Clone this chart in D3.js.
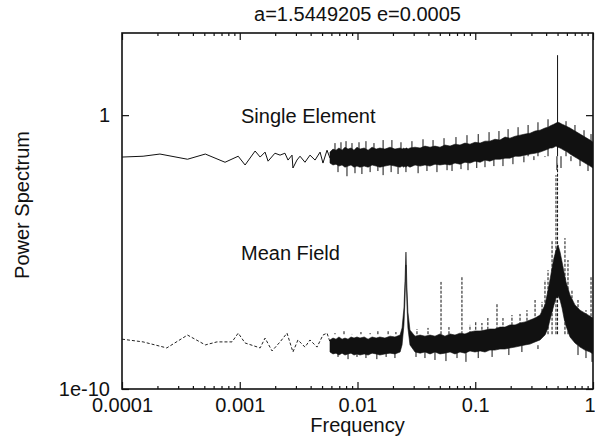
<!DOCTYPE html>
<html>
<head>
<meta charset="utf-8">
<script src="https://cdn.jsdelivr.net/npm/d3@7"></script>
<style>
  body { margin: 0; background: #fff; }
  svg text { font-family: "Liberation Sans", Arial, Helvetica, sans-serif; fill: #111; }
</style>
</head>
<body>
<svg id="chart" width="595" height="448"></svg>
<script>
// ---- data (power stored as log10) ----
var titleText = "a=1.5449205 e=0.0005";
var xTickValues = [1e-4, 1e-3, 1e-2, 1e-1, 1];
var xTickLabels = ["0.0001", "0.001", "0.01", "0.1", "1"];
var yTickValues = [1e-10, 1];
var yTickLabels = ["1e-10", "1"];

// low frequency part, Single Element (solid)
var singleLowFreq = [1e-4, 1.51e-4, 2.1e-4, 3.6e-4, 5.1e-4, 7.5e-4, 9.7e-4, 1.11e-3, 1.35e-3, 1.49e-3,
  1.64e-3, 1.74e-3, 1.99e-3, 2.2e-3, 2.42e-3, 2.57e-3, 2.78e-3, 2.83e-3, 3.06e-3, 3.25e-3,
  3.58e-3, 3.95e-3, 4.36e-3, 4.81e-3, 5.09e-3, 5.51e-3, 5.84e-3];
var singleLowLog = [-1.53, -1.50, -1.42, -1.61, -1.42, -1.72, -1.50, -1.82, -1.31, -1.53,
  -1.35, -1.68, -1.39, -1.46, -1.39, -1.64, -1.46, -1.93, -1.64, -1.50,
  -1.72, -1.46, -1.64, -1.35, -1.75, -1.28, -1.57];

// low frequency part, Mean Field (dashed)
var meanLowFreq = [1e-4, 1.51e-4, 2.4e-4, 3.6e-4, 5.1e-4, 6.4e-4, 8.6e-4, 9.7e-4, 1.11e-3, 1.49e-3,
  1.64e-3, 1.88e-3, 2.2e-3, 2.52e-3, 2.83e-3, 3.12e-3, 3.58e-3, 3.95e-3, 4.53e-3, 5.09e-3,
  5.51e-3, 5.84e-3];
var meanLowLog = [-8.18, -8.28, -8.50, -8.03, -8.39, -8.28, -8.28, -7.96, -8.32, -8.50,
  -8.14, -8.61, -8.28, -7.96, -8.65, -8.21, -8.47, -8.21, -8.47, -8.03,
  -7.96, -8.28];

// noisy part: common frequency grid with upper / lower envelopes of the dense core
var bandFreq = [0.00584, 0.00619, 0.00657, 0.00696, 0.00739, 0.00783, 0.00831, 0.00881, 0.00934, 0.0099,
  0.0105, 0.0114, 0.0123, 0.0133, 0.0144, 0.0155, 0.0171, 0.0189, 0.0208, 0.023,
  0.0239, 0.0248, 0.0253, 0.0258, 0.0263, 0.0268, 0.0279, 0.0308, 0.034, 0.0374,
  0.0413, 0.0455, 0.0502, 0.0553, 0.0611, 0.0673, 0.0742, 0.0818, 0.0902, 0.0995,
  0.110, 0.121, 0.133, 0.147, 0.162, 0.179, 0.197, 0.218, 0.240, 0.265,
  0.292, 0.322, 0.355, 0.391, 0.415, 0.431, 0.449, 0.466, 0.485, 0.505,
  0.525, 0.546, 0.567, 0.590, 0.638, 0.703, 0.776, 0.855, 0.944, 1.0];
var singleTopLog = [-1.35, -1.24, -1.28, -1.20, -1.28, -1.17, -1.24, -1.20, -1.28, -1.17,
  -1.24, -1.20, -1.28, -1.17, -1.24, -1.20, -1.24, -1.17, -1.24, -1.20,
  -1.24, -1.20, -1.24, -1.20, -1.20, -1.24, -1.20, -1.17, -1.20, -1.13,
  -1.17, -1.13, -1.17, -1.09, -1.13, -1.06, -1.09, -1.02, -1.06, -0.99,
  -1.02, -0.95, -0.95, -0.88, -0.91, -0.80, -0.84, -0.77, -0.73, -0.69,
  -0.66, -0.58, -0.55, -0.47, -0.44, -0.40, -0.36, -0.33, -0.29, -0.26,
  -0.29, -0.33, -0.36, -0.40, -0.47, -0.58, -0.69, -0.80, -0.91, -0.99];
var singleBotLog = [-1.75, -1.82, -1.79, -1.86, -1.82, -1.90, -1.86, -1.82, -1.90, -1.86,
  -1.90, -1.86, -1.90, -1.82, -1.86, -1.90, -1.86, -1.82, -1.86, -1.90,
  -1.86, -1.90, -1.86, -1.90, -1.86, -1.86, -1.90, -1.82, -1.86, -1.82,
  -1.86, -1.79, -1.82, -1.79, -1.82, -1.75, -1.79, -1.72, -1.75, -1.68,
  -1.72, -1.64, -1.68, -1.61, -1.61, -1.57, -1.57, -1.50, -1.50, -1.46,
  -1.42, -1.39, -1.35, -1.28, -1.24, -1.20, -1.20, -1.17, -1.13, -1.17,
  -1.20, -1.24, -1.28, -1.31, -1.42, -1.53, -1.64, -1.75, -1.86, -1.93];
var meanTopLog = [-8.21, -8.14, -8.18, -8.10, -8.18, -8.14, -8.18, -8.10, -8.14, -8.10,
  -8.14, -8.10, -8.18, -8.10, -8.14, -8.10, -8.14, -8.07, -8.10, -8.03,
  -7.77, -7.04, -6.09, -5.00, -6.31, -7.19, -7.85, -8.07, -8.03, -8.07,
  -8.03, -8.07, -7.99, -8.07, -7.99, -8.03, -7.96, -7.99, -7.92, -7.88,
  -7.88, -7.85, -7.81, -7.81, -7.74, -7.74, -7.66, -7.66, -7.59, -7.55,
  -7.48, -7.41, -7.30, -6.93, -6.39, -6.02, -5.58, -5.22, -4.93, -4.74,
  -5.00, -5.36, -5.73, -6.09, -6.57, -6.93, -7.12, -7.23, -7.34, -7.41];
var meanBotLog = [-8.65, -8.72, -8.69, -8.76, -8.69, -8.76, -8.72, -8.69, -8.76, -8.72,
  -8.76, -8.72, -8.76, -8.69, -8.72, -8.76, -8.72, -8.69, -8.72, -8.65,
  -8.39, -7.66, -6.75, -5.47, -6.93, -7.77, -8.39, -8.65, -8.69, -8.65,
  -8.72, -8.65, -8.72, -8.69, -8.65, -8.72, -8.65, -8.69, -8.61, -8.65,
  -8.61, -8.65, -8.58, -8.58, -8.54, -8.54, -8.50, -8.47, -8.43, -8.39,
  -8.36, -8.28, -8.21, -8.03, -7.77, -7.48, -7.19, -6.93, -6.68, -6.61,
  -6.75, -7.04, -7.41, -7.70, -8.10, -8.32, -8.47, -8.58, -8.65, -8.72];

// isolated spikes sticking out of the noise
var singleUpFreq = [0.00644, 0.00724, 0.00799, 0.00898, 0.0103, 0.0118, 0.0138, 0.0165, 0.0196, 0.0234,
  0.0290, 0.0360, 0.0438, 0.0543, 0.0686, 0.0851, 0.106, 0.131, 0.159, 0.190,
  0.231, 0.281, 0.341, 0.415, 0.5, 0.590, 0.703, 0.839, 0.962];
var singleUpLog = [-1.02, -0.99, -0.95, -1.02, -0.99, -0.95, -1.02, -0.91, -0.91, -0.99,
  -0.95, -0.88, -0.91, -0.84, -0.80, -0.73, -0.69, -0.62, -0.58, -0.51,
  -0.44, -0.36, -0.26, -0.15, 2.19, -0.22, -0.36, -0.55, -0.69];
var singleDownFreq = [0.00683, 0.00814, 0.00952, 0.0109, 0.0128, 0.0149, 0.0165, 0.0193, 0.0221, 0.0258,
  0.0327, 0.0389, 0.0473, 0.0576, 0.0635, 0.0757, 0.0868, 0.103, 0.121, 0.144,
  0.172, 0.209, 0.259, 0.315, 0.391, 0.494, 0.535, 0.650, 0.776, 0.907];
var singleDownLog = [-2.08, -2.23, -2.12, -2.15, -2.08, -2.04, -2.19, -2.08, -2.15, -2.08,
  -2.12, -2.04, -2.08, -2.01, -2.04, -1.97, -2.01, -1.93, -1.90, -1.86,
  -1.86, -1.79, -1.72, -1.64, -1.53, -2.01, -1.93, -1.68, -1.86, -2.04];
var meanUpFreq = [0.00644, 0.00768, 0.00898, 0.0107, 0.0128, 0.0149, 0.0182, 0.0212, 0.0320, 0.0397,
  0.0512, 0.0598, 0.0771, 0.0902, 0.101, 0.114, 0.128, 0.153, 0.172, 0.205,
  0.240, 0.275, 0.322, 0.369, 0.391, 0.415, 0.449, 0.485, 0.5, 0.578,
  0.613, 0.663, 0.746, 0.872, 0.962];
var meanUpLog = [-7.96, -7.88, -7.99, -7.92, -7.96, -7.88, -7.85, -7.92, -7.81, -7.77,
  -6.09, -7.74, -5.91, -7.66, -7.55, -7.59, -7.41, -6.86, -7.41, -7.30,
  -7.26, -7.12, -6.75, -6.82, -6.02, -5.66, -4.56, -2.19, -1.75, -4.49,
  -5.29, -6.39, -6.75, -7.12, -5.91];
var meanDownFreq = [0.00683, 0.00831, 0.0099, 0.0118, 0.0146, 0.0175, 0.0208, 0.0314, 0.0374, 0.0455,
  0.0564, 0.0700, 0.0834, 0.106, 0.139, 0.193, 0.249, 0.341, 0.746, 0.872, 0.981];
var meanDownLog = [-8.83, -8.91, -8.83, -8.87, -8.91, -8.83, -8.87, -8.83, -8.87, -8.94,
  -8.98, -8.87, -9.01, -8.87, -8.83, -8.76, -8.65, -8.54, -8.76, -8.87, -9.01];

// ---- layout ----
var svg = d3.select("#chart");
var plotTop = 33, plotBottom = 389, plotLeft = 122, plotRight = 593;
var x = d3.scaleLog().domain([1e-4, 1]).range([plotLeft, plotRight]);
var y = d3.scaleLog().domain([1e-10, 1e3]).range([plotBottom, plotTop]);

svg.append("clipPath").attr("id", "clip").append("rect")
  .attr("x", plotLeft).attr("y", plotTop)
  .attr("width", plotRight - plotLeft).attr("height", plotBottom - plotTop);

var plot = svg.append("g").attr("clip-path", "url(#clip)");

function pts(fr, lg) {
  return fr.map(function(f, i) { return { f: f, p: Math.pow(10, lg[i]) }; });
}
var line = d3.line().x(function(d) { return x(d.f); }).y(function(d) { return y(d.p); });

var band = bandFreq.map(function(f, i) {
  return {
    f: f,
    sTop: Math.pow(10, singleTopLog[i]), sBot: Math.pow(10, singleBotLog[i]),
    mTop: Math.pow(10, meanTopLog[i]), mBot: Math.pow(10, meanBotLog[i])
  };
});

function spikes(g, data, base, dash, width) {
  g.selectAll(null).data(data).enter().append("line")
    .attr("x1", function(d) { return x(d.f); }).attr("x2", function(d) { return x(d.f); })
    .attr("y1", y(base)).attr("y2", function(d) { return y(d.p); })
    .attr("stroke", "#111").attr("stroke-width", width)
    .attr("stroke-dasharray", dash);
}

// mean field
plot.append("path")
  .attr("d", line(pts(meanLowFreq, meanLowLog)))
  .attr("fill", "none").attr("stroke", "#222").attr("stroke-width", 1)
  .attr("stroke-dasharray", "3,2");
spikes(plot, pts(meanUpFreq, meanUpLog), 1e-8, "3,1.5", 1);
spikes(plot, pts(meanDownFreq, meanDownLog), Math.pow(10, -8.4), null, 1);
plot.append("path")
  .attr("d", d3.area()
    .x(function(d) { return x(d.f); })
    .y0(function(d) { return y(d.mBot); })
    .y1(function(d) { return y(d.mTop); })(band))
  .attr("fill", "#111").attr("stroke", "#111").attr("stroke-width", 0.6);

// single element
plot.append("path")
  .attr("d", line(pts(singleLowFreq, singleLowLog)))
  .attr("fill", "none").attr("stroke", "#111").attr("stroke-width", 1);
spikes(plot, pts(singleUpFreq, singleUpLog), Math.pow(10, -1.5), null, 1);
spikes(plot, pts(singleDownFreq, singleDownLog), Math.pow(10, -1.5), null, 1);
plot.append("path")
  .attr("d", d3.area()
    .x(function(d) { return x(d.f); })
    .y0(function(d) { return y(d.sBot); })
    .y1(function(d) { return y(d.sTop); })(band))
  .attr("fill", "#111").attr("stroke", "#111").attr("stroke-width", 0.6);

// ---- axes (ticks inside on all four sides) ----
var minorX = x.ticks().filter(function(t) { return xTickValues.indexOf(t) < 0; });

function styleAxis(g) {
  g.select(".domain").remove();
  g.selectAll("line").attr("stroke", "#111").attr("stroke-width", 1.2);
  g.selectAll("text").attr("font-size", 20).attr("fill", "#111")
    .attr("font-family", "Liberation Sans, Arial, sans-serif");
}

var xAxisG = svg.append("g").attr("transform", "translate(0," + plotBottom + ")")
  .call(d3.axisBottom(x).tickValues(xTickValues)
    .tickFormat(function(d, i) { return xTickLabels[i]; })
    .tickSize(-7).tickPadding(9))
  .call(styleAxis);
// keep the last label inside the page
xAxisG.selectAll("text").filter(function(d) { return d === 1; })
  .attr("text-anchor", "end").attr("dx", 2);

svg.append("g").attr("transform", "translate(0," + plotBottom + ")")
  .call(d3.axisBottom(x).tickValues(minorX).tickFormat("").tickSize(-3))
  .call(styleAxis);
svg.append("g").attr("transform", "translate(0," + plotTop + ")")
  .call(d3.axisTop(x).tickValues(xTickValues).tickFormat("").tickSize(-7))
  .call(styleAxis);
svg.append("g").attr("transform", "translate(0," + plotTop + ")")
  .call(d3.axisTop(x).tickValues(minorX).tickFormat("").tickSize(-3))
  .call(styleAxis);

svg.append("g").attr("transform", "translate(" + plotLeft + ",0)")
  .call(d3.axisLeft(y).tickValues(yTickValues)
    .tickFormat(function(d, i) { return yTickLabels[i]; })
    .tickSize(-7).tickPadding(12))
  .call(styleAxis);
svg.append("g").attr("transform", "translate(" + plotRight + ",0)")
  .call(d3.axisRight(y).tickValues(yTickValues).tickFormat("").tickSize(-7))
  .call(styleAxis);

// frame
svg.append("rect")
  .attr("x", plotLeft).attr("y", plotTop)
  .attr("width", plotRight - plotLeft).attr("height", plotBottom - plotTop)
  .attr("fill", "none").attr("stroke", "#111").attr("stroke-width", 1.6);

// ---- texts ----
svg.append("text").attr("x", (plotLeft + plotRight) / 2).attr("y", 21)
  .attr("text-anchor", "middle").attr("font-size", 20).text(titleText);
svg.append("text").attr("x", (plotLeft + plotRight) / 2).attr("y", 432)
  .attr("text-anchor", "middle").attr("font-size", 20).text("Frequency");
svg.append("text").attr("transform", "translate(29,205) rotate(-90)")
  .attr("text-anchor", "middle").attr("font-size", 20).text("Power Spectrum");
svg.append("text").attr("x", 241).attr("y", 123).attr("font-size", 20).text("Single Element");
svg.append("text").attr("x", 241).attr("y", 260).attr("font-size", 20).text("Mean Field");
</script>
</body>
</html>
